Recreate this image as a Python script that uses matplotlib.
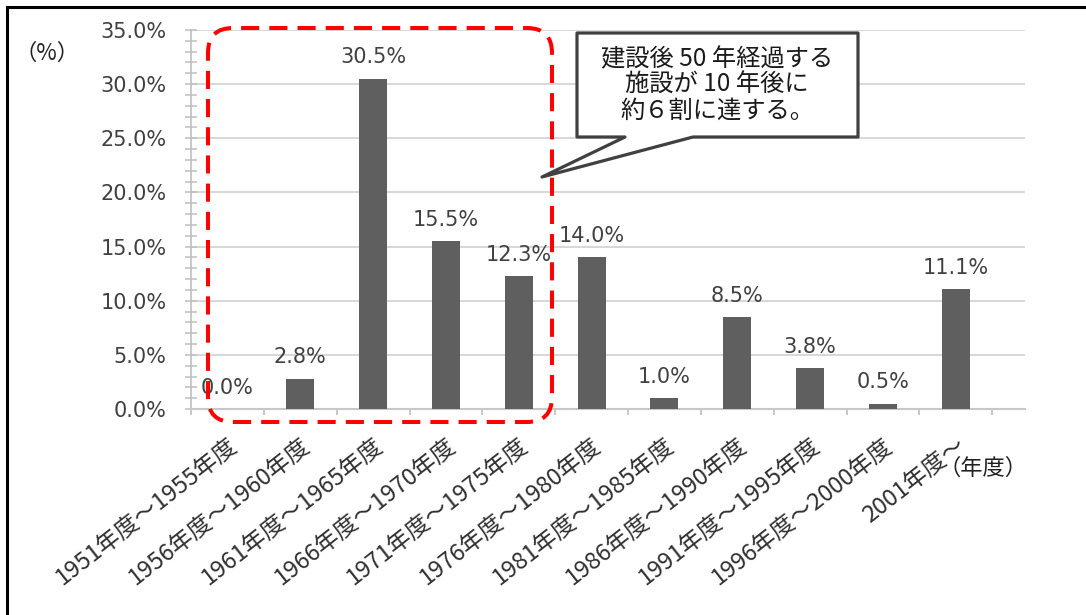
import matplotlib
matplotlib.use("Agg")
import matplotlib.pyplot as plt
import matplotlib.transforms as mtransforms
from matplotlib.patches import FancyBboxPatch, Polygon
from matplotlib.lines import Line2D
from matplotlib.ticker import MultipleLocator, FuncFormatter

plt.rcParams["font.family"] = ["DejaVu Sans", "Noto Sans CJK JP"]

# data
periods = [
    "1951年度～1955年度", "1956年度～1960年度", "1961年度～1965年度",
    "1966年度～1970年度", "1971年度～1975年度", "1976年度～1980年度",
    "1981年度～1985年度", "1986年度～1990年度", "1991年度～1995年度",
    "1996年度～2000年度", "2001年度～",
]
shares = [0.0, 2.8, 30.5, 15.5, 12.3, 14.0, 1.0, 8.5, 3.8, 0.5, 11.1]
y_ticks = [0, 5, 10, 15, 20, 25, 30, 35]
callout_text = "建設後 50 年経過する\n施設が 10 年後に\n約６割に達する。"

W, H, DPI = 1086, 615, 100
JP = ["Noto Sans CJK JP", "DejaVu Sans"]
TXT = "#404040"
BAR = "#5f5f5f"


def inch(x, y):
    """pixel position (top-left origin) -> inches for dpi_scale_trans"""
    return x / DPI, (H - y) / DPI


fig = plt.figure(figsize=(W / DPI, H / DPI), dpi=DPI)
ax = fig.add_axes([191 / W, 1 - 409 / H, 834 / W, 379 / H])

x = list(range(len(periods)))
ax.bar(x, shares, width=0.385, color=BAR, zorder=3)

for xi, v in zip(x, shares):
    ax.annotate(f"{v:.1f}%", xy=(xi, v), xytext=(0, 11), textcoords="offset points",
                ha="center", va="baseline", fontsize=15, color=TXT, zorder=4)

ax.set_xlim(-0.5, 10.95)
ax.set_ylim(0, 35)
ax.set_yticks(y_ticks)
ax.yaxis.set_major_formatter(FuncFormatter(lambda v, _: f"{v:.1f}%"))
ax.yaxis.set_minor_locator(MultipleLocator(1))
ax.grid(axis="y", color="#d4d4d4", linewidth=1.3, zorder=0)

ax.set_xticks(x)
ax.set_xticklabels(periods, rotation=38, ha="right", va="top",
                   rotation_mode="anchor", fontsize=17, color="#303030", family=JP)
ax.set_xticks([i - 0.5 for i in range(len(periods) + 1)], minor=True)
shift = mtransforms.ScaledTranslation(0.06, 0, fig.dpi_scale_trans)
for lbl in ax.get_xticklabels():
    lbl.set_transform(lbl.get_transform() + shift)

ax.tick_params(axis="x", which="major", length=0, pad=18)
ax.tick_params(axis="x", which="minor", length=4, width=1.2, color="#bfbfbf")
ax.tick_params(axis="y", which="both", direction="inout", length=9, width=1.1,
               color="#bfbfbf", labelsize=15, labelcolor=TXT, pad=13)

for side in ("top", "right"):
    ax.spines[side].set_visible(False)
ax.spines["left"].set_color("#bfbfbf")
ax.spines["bottom"].set_color("#c8c8c8")
ax.spines["left"].set_linewidth(1.2)
ax.spines["bottom"].set_linewidth(1.5)

# axis unit labels
fig.text(47 / W, 1 - 53 / H, "（%）", ha="center", va="center", fontsize=16,
         color="#202020", family=JP)
fig.text(983 / W, 1 - 468 / H, "（年度）", ha="center", va="center", fontsize=16,
         color="#202020", family=JP)

# red dashed highlight around 1951-1975
x0, y0 = inch(208, 422)
x1, y1 = inch(552, 28)
fig.patches.append(FancyBboxPatch(
    (x0, y0), x1 - x0, y1 - y0, boxstyle="round,pad=0,rounding_size=0.25",
    transform=fig.dpi_scale_trans, fill=False, edgecolor="#ff0000",
    linewidth=2.9, linestyle=(0, (4.5, 2.5)), zorder=10))

# speech-bubble callout
bubble = [inch(577, 33), inch(858, 33), inch(858, 137), inch(693, 137),
          inch(542, 177), inch(625, 137), inch(577, 137)]
fig.patches.append(Polygon(bubble, closed=True, transform=fig.dpi_scale_trans,
                           facecolor="white", edgecolor="#404040",
                           linewidth=2.3, joinstyle="round", zorder=11))
tx, ty = inch(717, 85)
fig.text(tx, ty, callout_text, transform=fig.dpi_scale_trans, ha="center",
         va="center", fontsize=17.5, linespacing=1.0, color="#1a1a1a",
         family=JP, zorder=12)

# outer frame (left and top edges only are visible)
fig.lines.append(Line2D([7 / W, 7 / W], [0, 1 - 7 / H], transform=fig.transFigure,
                        color="black", linewidth=2.2))
fig.lines.append(Line2D([7 / W, 1], [1 - 7 / H, 1 - 7 / H], transform=fig.transFigure,
                        color="black", linewidth=2.2))

fig.savefig("out.png", dpi=DPI)
